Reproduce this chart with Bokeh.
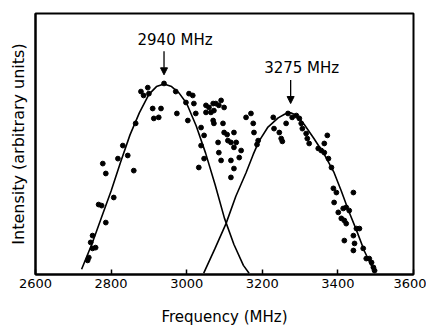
from bokeh.plotting import figure
from bokeh.models import Range1d, FixedTicker, Arrow, NormalHead, ColumnDataSource
from bokeh.embed import file_html
from bokeh.resources import INLINE
from bokeh.core.properties import value

# ---- data ----
x_ticks = [2600, 2800, 3000, 3200, 3400, 3600]

curve1_freq = [2722, 2750, 2775, 2800, 2825, 2850, 2875, 2900, 2920, 2940,
               2960, 2980, 3000, 3025, 3050, 3075, 3100, 3125, 3150, 3165]
curve1_int = [0.02, 0.12, 0.22, 0.32, 0.43, 0.535, 0.62, 0.69, 0.72, 0.73,
              0.72, 0.695, 0.655, 0.57, 0.465, 0.345, 0.215, 0.115, 0.035, 0.005]

curve2_freq = [3045, 3075, 3104, 3130, 3157, 3176, 3191, 3215, 3242, 3260, 3275,
               3290, 3311, 3337, 3364, 3390, 3409, 3428, 3449, 3470, 3497]
curve2_int = [0.005, 0.10, 0.195, 0.30, 0.39, 0.46, 0.51, 0.565, 0.60, 0.615, 0.62,
              0.61, 0.575, 0.52, 0.46, 0.39, 0.32, 0.245, 0.17, 0.09, 0.008]

data_freq = [2738, 2741, 2751, 2759, 2746, 2751, 2786, 2767, 2775, 2807,
             2786, 2860, 2778, 2818, 2844, 2831, 2865, 2913, 2926, 2910,
             2932, 2974, 2879, 2886, 2897, 2900, 2940, 2971, 3006, 3016,
             2998, 3019, 3003, 3024, 3051, 3059, 3070, 3077, 3085, 3051,
             3064, 3072, 3070, 3072, 3096, 3038, 3046, 3099, 3107, 3125,
             3109, 3117, 3083, 3038, 3131, 3125, 3144, 3085, 3046, 3091,
             3117, 3139, 3125, 3032, 3117, 3091, 3099, 3170, 3157, 3176,
             3178, 3189, 3186, 3229, 3231, 3245, 3250, 3253, 3268, 3263,
             3279, 3290, 3298, 3303, 3306, 3316, 3319, 3324, 3372, 3364,
             3356, 3364, 3348, 3375, 3383, 3388, 3396, 3441, 3390, 3401,
             3414, 3422, 3430, 3409, 3417, 3422, 3449, 3457, 3441, 3417,
             3444, 3441, 3467, 3475, 3483, 3489, 3494, 3497]
data_int = [0.054, 0.065, 0.100, 0.103, 0.123, 0.149, 0.199, 0.268, 0.264, 0.295,
            0.387, 0.398, 0.425, 0.444, 0.456, 0.494, 0.579, 0.598, 0.602, 0.636,
            0.636, 0.617, 0.701, 0.686, 0.716, 0.693, 0.732, 0.701, 0.693, 0.686,
            0.659, 0.655, 0.590, 0.617, 0.648, 0.640, 0.655, 0.655, 0.648, 0.621,
            0.621, 0.628, 0.590, 0.579, 0.579, 0.563, 0.533, 0.544, 0.536, 0.544,
            0.513, 0.506, 0.506, 0.494, 0.506, 0.487, 0.475, 0.467, 0.444, 0.437,
            0.437, 0.448, 0.406, 0.410, 0.372, 0.667, 0.640, 0.617, 0.602, 0.579,
            0.544, 0.513, 0.498, 0.602, 0.559, 0.544, 0.521, 0.510, 0.617, 0.579,
            0.602, 0.609, 0.598, 0.579, 0.559, 0.540, 0.521, 0.502, 0.533, 0.502,
            0.475, 0.467, 0.483, 0.444, 0.410, 0.330, 0.314, 0.314, 0.276, 0.238,
            0.253, 0.257, 0.245, 0.215, 0.207, 0.195, 0.176, 0.176, 0.149, 0.130,
            0.119, 0.092, 0.100, 0.061, 0.061, 0.046, 0.027, 0.015]

peak_freq = [2940, 3275]
peak_height = [0.73, 0.62]
peak_labels = ["2940 MHz", "3275 MHz"]

FONT = "DejaVu Sans"

p = figure(width=426, height=328, output_backend="svg", toolbar_location=None,
           x_range=Range1d(2600, 3600), y_range=Range1d(0, 1),
           min_border_left=35, min_border_right=13, min_border_top=13,
           min_border_bottom=54)

p.grid.visible = False
p.outline_line_color = "black"
p.outline_line_width = 2
p.background_fill_color = "white"
p.border_fill_color = "white"

# x axis
p.xaxis.ticker = FixedTicker(ticks=x_ticks)
p.xaxis.major_tick_in = 5
p.xaxis.major_tick_out = 0
p.xaxis.minor_tick_line_color = None
p.xaxis.axis_line_width = 2
p.xaxis.major_tick_line_width = 1.5
p.xaxis.major_label_text_font = FONT
p.xaxis.major_label_text_font_size = "13px"
p.xaxis.major_label_text_color = "black"
p.xaxis.major_label_standoff = 4
p.xaxis.axis_label = "Frequency (MHz)"
p.xaxis.axis_label_text_font = FONT
p.xaxis.axis_label_text_font_size = "15px"
p.xaxis.axis_label_text_font_style = "normal"
p.xaxis.axis_label_text_color = "black"
p.xaxis.axis_label_standoff = 17

# y axis
p.yaxis.ticker = FixedTicker(ticks=[])
p.yaxis.minor_tick_line_color = None
p.yaxis.axis_line_width = 2
p.yaxis.axis_label = "Intensity (arbitrary units)"
p.yaxis.axis_label_text_font = FONT
p.yaxis.axis_label_text_font_size = "16px"
p.yaxis.axis_label_text_font_style = "normal"
p.yaxis.axis_label_text_color = "black"
p.yaxis.axis_label_standoff = 8

# fitted curves
p.line(curve1_freq, curve1_int, line_color="black", line_width=1.6)
p.line(curve2_freq, curve2_int, line_color="black", line_width=1.6)

# data points
p.scatter(data_freq, data_int, marker="circle", size=4.8,
          fill_color="black", line_color="black")

# peak annotations
src = ColumnDataSource(dict(
    x=peak_freq,
    y=[h + 0.135 for h in peak_height],
    text=peak_labels,
))
p.text(x="x", y="y", text="text", source=src, x_offset=11,
       text_align="center", text_baseline="bottom",
       text_font=value(FONT), text_font_size="15px", text_color="black")

for f, h in zip(peak_freq, peak_height):
    p.add_layout(Arrow(x_start=f, y_start=h + 0.125, x_end=f, y_end=h + 0.035,
                       line_color="black", line_width=1.3,
                       end=NormalHead(size=7, fill_color="black",
                                      line_color="black")))

open("out.html", "w").write(file_html(p, INLINE))
